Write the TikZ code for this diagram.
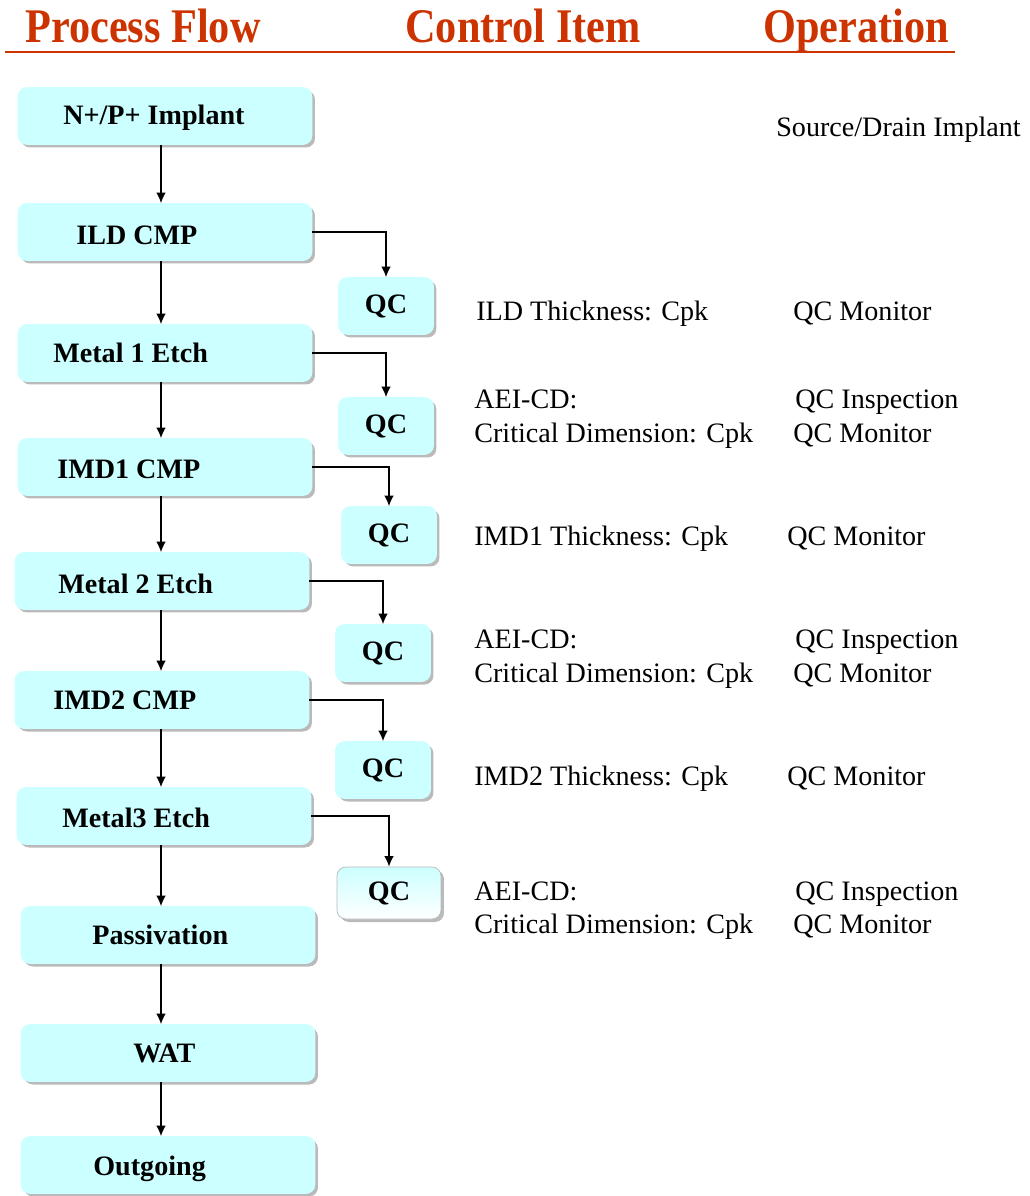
\documentclass[tikz,border=0pt]{standalone}
\usepackage{fontspec}
\setmainfont{Liberation Serif}
\newfontfamily\hdrfont[FakeStretch=0.875]{Liberation Serif}
\usetikzlibrary{arrows.meta,shadows}

\definecolor{hdrred}{RGB}{204,51,0}
\definecolor{boxcyan}{RGB}{204,255,255}

\tikzset{
  flow/.style={rectangle, rounded corners=0.18cm, fill=boxcyan, draw=boxcyan,
    minimum width=5.88cm, minimum height=1.14cm,
    drop shadow={shadow xshift=0.06cm, shadow yshift=-0.06cm, opacity=0.45, fill=black!60}},
  qc/.style={flow, minimum width=1.9cm, inner sep=0pt, font=\fontsize{16}{19}\selectfont\bfseries},
  btxt/.style={anchor=base west, inner sep=0pt, font=\fontsize{16}{19}\selectfont\bfseries},
  ntxt/.style={anchor=base west, inner sep=0pt, font=\fontsize{16}{19}\selectfont},
  htxt/.style={anchor=base west, inner sep=0pt, text=hdrred, font=\hdrfont\fontsize{27.5}{32}\selectfont\bfseries},
  arr/.style={line width=0.75pt, -{Latex[length=2.1mm,width=1.9mm]}},
}

\begin{document}
\begin{tikzpicture}[x=0.02cm, y=-0.02cm]
\useasboundingbox (0,0) rectangle (1029,1196);

% headings
\node[htxt] (h-flow) at (25,43) {Process Flow};
\node[htxt] (h-ctrl) at (405,43) {Control Item};
\node[htxt] (h-op) at (763,43) {Operation};
\draw[hdrred, line width=1.3pt] (5,52) -- (955,52);

% process flow
\node[flow] (imp) at (165,116) {};
\node[flow] (ild) at (165,232) {};
\node[flow] (m1) at (165,353) {};
\node[flow] (imd1) at (165,467) {};
\node[flow] (m2) at (162,581) {};
\node[flow] (imd2) at (162,700) {};
\node[flow] (m3) at (164,816) {};
\node[flow] (pas) at (168,935) {};
\node[flow] (wat) at (168,1053) {};
\node[flow] (out) at (168,1165) {};

\node[btxt] (imp-t) at (63,125) {N+/P+ Implant};
\node[btxt] (ild-t) at (76,244) {ILD CMP};
\node[btxt] (m1-t) at (53,362) {Metal 1 Etch};
\node[btxt] (imd1-t) at (57,478) {IMD1 CMP};
\node[btxt] (m2-t) at (58,593) {Metal 2 Etch};
\node[btxt] (imd2-t) at (53,709) {IMD2 CMP};
\node[btxt] (m3-t) at (62,827) {Metal3 Etch};
\node[btxt] (pas-t) at (92,944) {Passivation};
\node[btxt] (wat-t) at (133,1062) {WAT};
\node[btxt] (out-t) at (93,1175) {Outgoing};

% QC steps
\node[qc] (qc1) at (386,306) {QC};
\node[qc] (qc2) at (386,426) {QC};
\node[qc] (qc3) at (389,535) {QC};
\node[qc] (qc4) at (383,653) {QC};
\node[qc] (qc5) at (383,770) {QC};
\node[qc, minimum width=2.08cm, minimum height=1.04cm, draw=gray!55,
  top color=boxcyan, bottom color=white] (qc6) at (389,893) {QC};

% arrows
\coordinate (spine) at (161,0);
\foreach \a/\b in {imp/ild,ild/m1,m1/imd1,imd1/m2,m2/imd2,imd2/m3,m3/pas,pas/wat,wat/out}
  \draw[arr] (\a.south -| spine) -- (\b.north -| spine);
\foreach \a/\b in {ild/qc1,m1/qc2,imd1/qc3,m2/qc4,imd2/qc5,m3/qc6}
  \draw[arr] (\a.east) -| (\b.north);

% control items and operations
\node[ntxt] (src) at (776,137) {Source/Drain Implant};

\node[ntxt] (c1) at (476,320) {ILD Thickness: Cpk};
\node[ntxt] (o1) at (793,320) {QC Monitor};

\node[ntxt] (c2a) at (474,408) {AEI-CD:};
\node[ntxt] (c2b) at (474,442) {Critical Dimension: Cpk};
\node[ntxt] (o2a) at (795,408) {QC Inspection};
\node[ntxt] (o2b) at (793,442) {QC Monitor};

\node[ntxt] (c3) at (474,545) {IMD1 Thickness: Cpk};
\node[ntxt] (o3) at (787,545) {QC Monitor};

\node[ntxt] (c4a) at (474,648) {AEI-CD:};
\node[ntxt] (c4b) at (474,682) {Critical Dimension: Cpk};
\node[ntxt] (o4a) at (795,648) {QC Inspection};
\node[ntxt] (o4b) at (793,682) {QC Monitor};

\node[ntxt] (c5) at (474,785) {IMD2 Thickness: Cpk};
\node[ntxt] (o5) at (787,785) {QC Monitor};

\node[ntxt] (c6a) at (474,900) {AEI-CD:};
\node[ntxt] (c6b) at (474,933) {Critical Dimension: Cpk};
\node[ntxt] (o6a) at (795,900) {QC Inspection};
\node[ntxt] (o6b) at (793,933) {QC Monitor};
\end{tikzpicture}
\end{document}
